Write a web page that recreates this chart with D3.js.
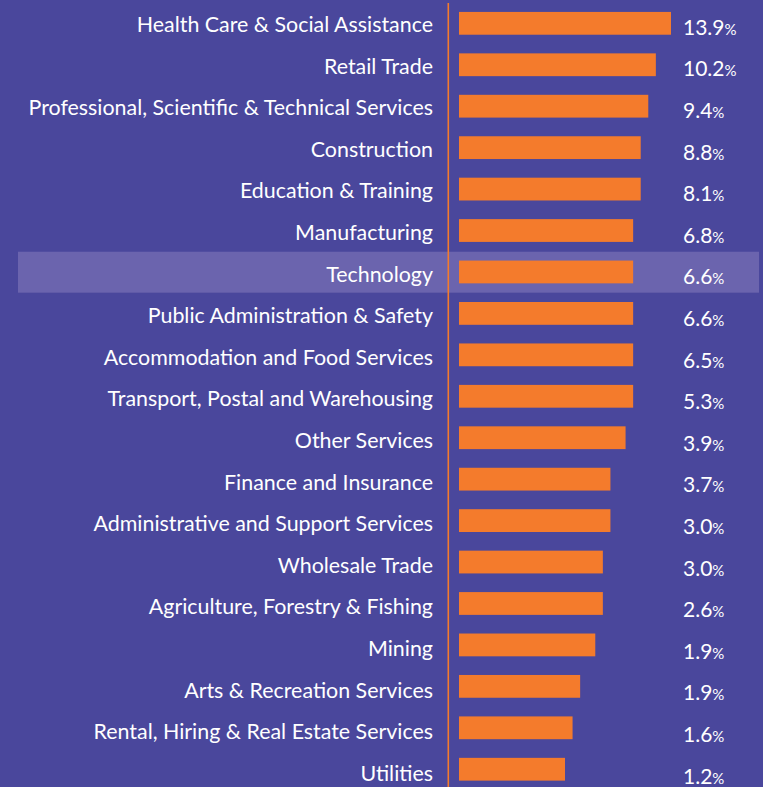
<!DOCTYPE html>
<html><head><meta charset="utf-8">
<script src="https://cdn.jsdelivr.net/npm/d3@7"></script>
<style>html,body{margin:0;padding:0;background:#4a479c;}svg{display:block;}</style>
</head><body>
<svg id="chart" width="763" height="787"></svg>
<script>
const categories = ["Health Care & Social Assistance","Retail Trade","Professional, Scientific & Technical Services","Construction","Education & Training","Manufacturing","Technology","Public Administration & Safety","Accommodation and Food Services","Transport, Postal and Warehousing","Other Services","Finance and Insurance","Administrative and Support Services","Wholesale Trade","Agriculture, Forestry & Fishing","Mining","Arts & Recreation Services","Rental, Hiring & Real Estate Services","Utilities"];
const barValues = [28,26,25,24,24,23,23,23,23,23,22,20,20,19,19,18,16,15,14];
const labelValues = ["13.9","10.2","9.4","8.8","8.1","6.8","6.6","6.6","6.5","5.3","3.9","3.7","3.0","3.0","2.6","1.9","1.9","1.6","1.2"];
const highlighted = ["Technology"];

const svg = d3.select("#chart");
const W = 763, H = 787;
svg.append("rect").attr("width",W).attr("height",H).attr("fill","#4a479c");

const y = d3.scaleBand().domain(categories).range([2.6, 2.6 + 19*41.44]).paddingInner(0.45).paddingOuter(0.225);
const yText = d3.scaleBand().domain(categories).range([0, 19*41.6]);
const x = d3.scaleLinear().domain([0,28]).range([459,671]);
const step = y.step();
const font = "Lato, 'Noto Sans', sans-serif";

// highlight band
svg.selectAll("rect.hl").data(highlighted).join("rect").attr("class","hl")
  .attr("x",18).attr("width",741)
  .attr("y",d=>y(d)+y.bandwidth()/2-step/2+0.5).attr("height",step-0.5)
  .attr("fill","#6b64ae");

// axis line
svg.append("line").attr("x1",448.3).attr("x2",448.3).attr("y1",3).attr("y2",H)
  .attr("stroke","#f47b2c").attr("stroke-width",1.6);

// bars
svg.selectAll("rect.bar").data(categories).join("rect").attr("class","bar")
  .attr("x",x(0)).attr("y",d=>y(d)).attr("height",y.bandwidth())
  .attr("width",(d,i)=>x(barValues[i])-x(0)).attr("fill","#f47b2c");

// category labels
svg.selectAll("text.cat").data(categories).join("text").attr("class","cat")
  .attr("x",433).attr("y",d=>yText(d)+32)
  .attr("text-anchor","end").attr("fill","#ffffff")
  .attr("font-family",font).attr("font-size",21.4).text(d=>d);

// value labels
const vl = svg.selectAll("text.val").data(categories).join("text").attr("class","val")
  .attr("x",683).attr("y",d=>yText(d)+34.8)
  .attr("fill","#ffffff").attr("font-family",font).attr("font-size",21);
vl.append("tspan").text((d,i)=>labelValues[i]);
vl.append("tspan").attr("font-size",15).text("%");
</script>
</body></html>
